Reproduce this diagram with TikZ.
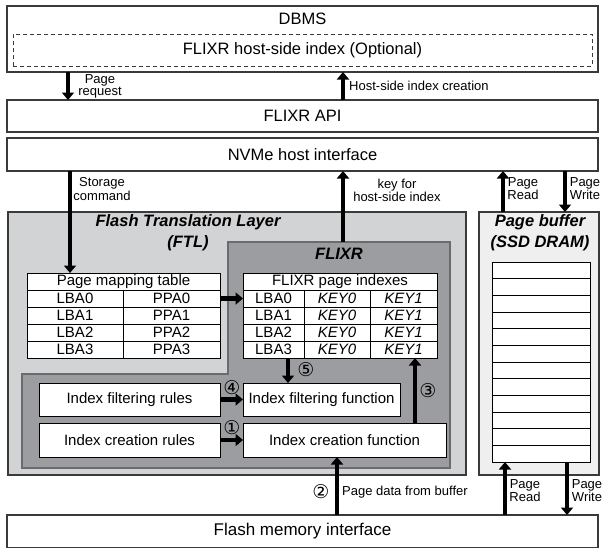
\documentclass[tikz,border=0pt]{standalone}
\usepackage{fontspec}
\setmainfont{Liberation Sans}
\newfontfamily\circfont{DejaVu Sans}
\usepackage{xcolor}
\usepackage{tikz}
\usetikzlibrary{arrows.meta,positioning,calc}
\definecolor{ftlgray}{HTML}{D2D3D5}
\definecolor{flixrgray}{HTML}{9C9DA0}
\definecolor{flixredge}{HTML}{6B6B6D}
\definecolor{bufgray}{HTML}{EFEFF0}
\definecolor{darkedge}{HTML}{3A3A3A}
\newcommand{\bigfont}{\fontsize{16.5}{18}\selectfont}
\newcommand{\midfont}{\fontsize{15}{16}\selectfont}
\newcommand{\lblfont}{\fontsize{13}{12}\selectfont}
\newcommand{\titlefont}{\fontsize{16.5}{21}\selectfont\bfseries\itshape}
\tikzset{
  layerbox/.style={draw=darkedge,fill=white,line width=1.2pt,inner sep=0pt,
    outer sep=0pt,anchor=north west,font=\bigfont},
  funcbox/.style={draw=black,fill=white,line width=0.9pt,inner sep=0pt,
    outer sep=0pt,anchor=north west,font=\midfont},
  cellbox/.style={draw=black,fill=white,line width=0.9pt,inner sep=0pt,
    outer sep=0pt,anchor=north west,minimum height=17pt,font=\midfont},
  flowarrow/.style={-{Triangle[length=7.5pt,width=12pt]},line width=4.2pt,draw=black},
  sidelabel/.style={align=center,font=\lblfont,inner sep=0pt},
  circlabel/.style={font=\circfont\fontsize{19}{19}\selectfont,inner sep=0pt},
  titlelabel/.style={font=\titlefont,align=center,inner sep=0pt}
}

\begin{document}
\begin{tikzpicture}[x=1pt,y=-1pt]
\useasboundingbox (0,0) rectangle (604,547);
% host side
\node[layerbox,minimum width=591pt,minimum height=66pt] (dbms) at (7,6) {};
\node[font=\bigfont] (dbmstitle) at (302.5,19) {DBMS};
\node[layerbox,dashed,dash pattern=on 4pt off 3pt,line width=0.8pt,
  minimum width=579pt,minimum height=32pt] (hostidx) at (13,34) {FLIXR host-side index (Optional)};
\node[layerbox,minimum width=591pt,minimum height=32pt] (api) at (7,100) {FLIXR API};
\node[layerbox,minimum width=591pt,minimum height=33pt] (nvme) at (7,138) {NVMe host interface};
% FTL and page buffer
\node[layerbox,fill=ftlgray,minimum width=458pt,minimum height=263pt] (ftl) at (8,212) {};
\node[titlelabel] (ftltitle) at (188,233) {Flash Translation Layer\\(FTL)};
\node[layerbox,fill=bufgray,minimum width=120pt,minimum height=263pt] (pagebuf) at (479,212) {};
\node[titlelabel] (buftitle) at (540,233) {Page buffer\\(SSD DRAM)};
\foreach \i in {0,...,11}
  \node[cellbox,minimum width=98pt,minimum height=16.67pt] (slot\i) at (492,{262+16.67*\i}) {};
% FLIXR
\draw[draw=flixredge,fill=flixrgray,line width=2pt] (228,242) -- (450,242) -- (450,468)
  -- (22,468) -- (22,374) -- (228,374) -- cycle;
\coordinate (flixrtop) at (343,242);
\node[titlelabel] (flixrtitle) at (339,254) {FLIXR};
% page mapping table
\node[cellbox,minimum width=193pt] (pmt) at (27,273) {Page mapping table};
\node[cellbox,minimum width=96pt] (pmtl0) at (27,290) {LBA0};
\node[cellbox,minimum width=97pt] (pmtp0) at (123,290) {PPA0};
\node[cellbox,minimum width=96pt] (pmtl1) at (27,307) {LBA1};
\node[cellbox,minimum width=97pt] (pmtp1) at (123,307) {PPA1};
\node[cellbox,minimum width=96pt] (pmtl2) at (27,324) {LBA2};
\node[cellbox,minimum width=97pt] (pmtp2) at (123,324) {PPA2};
\node[cellbox,minimum width=96pt] (pmtl3) at (27,341) {LBA3};
\node[cellbox,minimum width=97pt] (pmtp3) at (123,341) {PPA3};
% FLIXR page indexes
\node[cellbox,minimum width=194pt] (fpi) at (243,273) {FLIXR page indexes};
\node[cellbox,minimum width=61pt] (fpil0) at (243,290) {LBA0};
\node[cellbox,minimum width=66pt] (fpij0) at (304,290) {\itshape KEY0};
\node[cellbox,minimum width=67pt] (fpik0) at (370,290) {\itshape KEY1};
\node[cellbox,minimum width=61pt] (fpil1) at (243,307) {LBA1};
\node[cellbox,minimum width=66pt] (fpij1) at (304,307) {\itshape KEY0};
\node[cellbox,minimum width=67pt] (fpik1) at (370,307) {\itshape KEY1};
\node[cellbox,minimum width=61pt] (fpil2) at (243,324) {LBA2};
\node[cellbox,minimum width=66pt] (fpij2) at (304,324) {\itshape KEY0};
\node[cellbox,minimum width=67pt] (fpik2) at (370,324) {\itshape KEY1};
\node[cellbox,minimum width=61pt] (fpil3) at (243,341) {LBA3};
\node[cellbox,minimum width=66pt] (fpij3) at (304,341) {\itshape KEY0};
\node[cellbox,minimum width=67pt] (fpik3) at (370,341) {\itshape KEY1};
% rules and functions
\node[funcbox,minimum width=181pt,minimum height=33pt] (ifrules) at (39,383) {Index filtering rules};
\node[funcbox,minimum width=157pt,minimum height=33pt] (iffunc) at (243,383) {Index filtering function};
\node[funcbox,minimum width=181pt,minimum height=34pt] (icrules) at (39,423) {Index creation rules};
\node[funcbox,minimum width=203pt,minimum height=34pt] (icfunc) at (243,423) {Index creation function};
% flash
\node[layerbox,minimum width=591pt,minimum height=33pt,font=\fontsize{17}{18}\selectfont]
  (flash) at (7,515) {Flash memory interface};
% arrow positions
\coordinate (reqx) at (68,0);
\coordinate (creatx) at (343,0);
\coordinate (storx) at (70,0);
\coordinate (keyx) at (343,0);
\coordinate (readx) at (503,0);
\coordinate (writex) at (565,0);
\coordinate (fivex) at (288,0);
\coordinate (threex) at (415,0);
\coordinate (twox) at (337,0);
\coordinate (read2x) at (505,0);
\coordinate (write2x) at (567,0);
% arrows
\draw[flowarrow] (dbms.south -| reqx) -- (api.north -| reqx);
\draw[flowarrow] (api.north -| creatx) -- (dbms.south -| creatx);
\draw[flowarrow] (nvme.south -| storx) -- (pmt.north -| storx);
\draw[flowarrow] (flixrtop) -- (nvme.south -| keyx);
\draw[flowarrow] (pagebuf.north -| readx) -- (nvme.south -| readx);
\draw[flowarrow] (nvme.south -| writex) -- (pagebuf.north -| writex);
\draw[flowarrow] (pmtp0.east) -- (fpil0.west);
\draw[flowarrow] (fpil3.south -| fivex) -- (iffunc.north -| fivex);
\draw[flowarrow] (icfunc.north -| threex) -- (fpik3.south -| threex);
\draw[flowarrow] (ifrules.east) -- (iffunc.west);
\draw[flowarrow] (icrules.east) -- (icfunc.west);
\draw[flowarrow] (flash.north -| twox) -- (icfunc.south -| twox);
\draw[flowarrow] (flash.north -| read2x) -- (slot11.south -| read2x);
\draw[flowarrow] (slot11.south -| write2x) -- (flash.north -| write2x);
% labels
\node[sidelabel] (reqlbl) at (100,86) {Page\\request};
\node[sidelabel,anchor=west] (creatlbl) at (349,86) {Host-side index creation};
\node[sidelabel] (storlbl) at (102,189) {Storage\\command};
\node[sidelabel] (keylbl) at (397,190) {key for\\host-side index};
\node[sidelabel] (readlbl) at (523,189) {Page\\Read};
\node[sidelabel] (writelbl) at (585,189) {Page\\Write};
\node[sidelabel] (read2lbl) at (525,491) {Page\\Read};
\node[sidelabel] (write2lbl) at (587,491) {Page\\Write};
\node[sidelabel,anchor=west] (datalbl) at (342,492) {Page data from buffer};
\node[circlabel] (one) at (232,428) {①};
\node[circlabel] (two) at (321,492) {②};
\node[circlabel] (three) at (428,391) {③};
\node[circlabel] (four) at (232,388) {④};
\node[circlabel] (five) at (306,370) {⑤};
\end{tikzpicture}
\end{document}
